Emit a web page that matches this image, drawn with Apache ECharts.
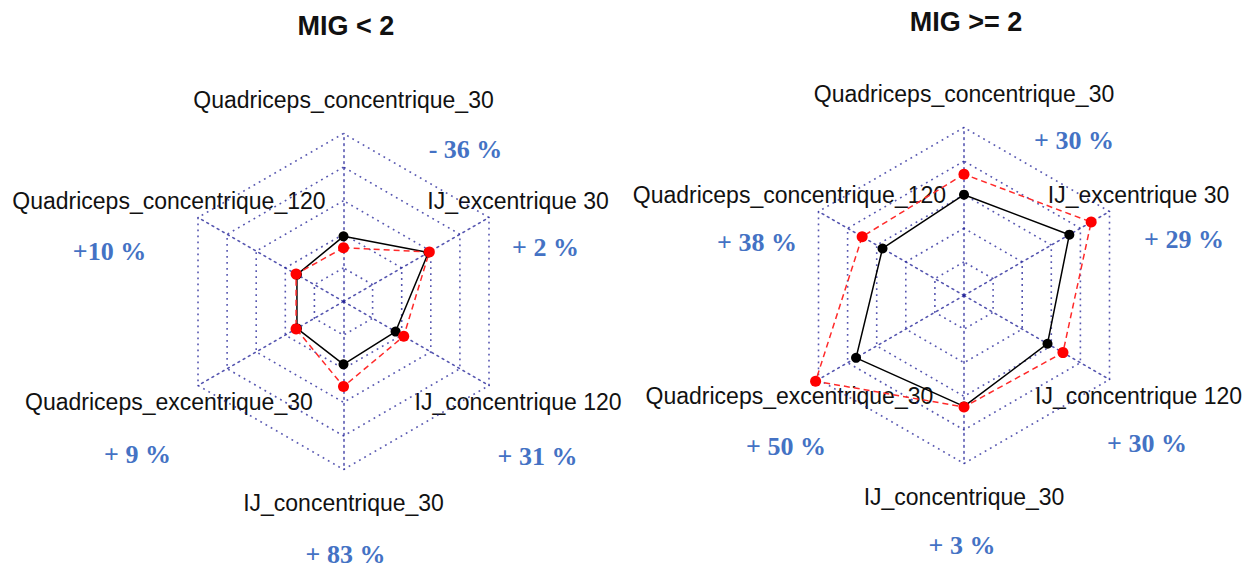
<!DOCTYPE html>
<html>
<head>
<meta charset="utf-8">
<script src="https://cdn.jsdelivr.net/npm/echarts@6/dist/echarts.min.js"></script>
<style>
    html, body {margin: 0; padding: 0; background: #fff;}
    #main {width: 1256px; height: 571px;}
</style>
</head>
<body>
<div id="main"></div>
<script>
// axes, counterclockwise starting at the top (fmsb order)
var indicators = ['Quadriceps_concentrique_30', 'Quadriceps_concentrique_120', 'Quadriceps_excentrique_30',
    'IJ_concentrique_30', 'IJ_concentrique 120', 'IJ_excentrique 30'];
var titles = ['MIG < 2', 'MIG >= 2'];

// values in grid-ring units (0..5)
var lowBlack = [1.94, 1.60, 1.60, 1.87, 1.79, 2.92];
var lowRed = [1.60, 1.63, 1.63, 2.53, 2.07, 2.95];
var highBlack = [3.00, 2.80, 3.71, 3.30, 2.87, 3.62];
var highRed = [3.61, 3.50, 5.10, 3.32, 3.40, 4.37];

// change labels next to each axis
var lowPct = ['- 36 %', '+10 %', '+ 9 %', '+ 83 %', '+ 31 %', '+ 2 %'];
var highPct = ['+ 30 %', '+ 38 %', '+ 50 %', '+ 3 %', '+ 30 %', '+ 29 %'];

// layout
var centers = [[343.5, 301.5], [964, 295.5]];
var titlePos = [[346, 26], [966, 22]];
var R = 168;
var pctOffsets = [
    [[122, -152], [-234, -50], [-206, 153], [2, 253], [194, 155], [202, -54]],
    [[110, -155], [-207, -53], [-178, 151], [-2, 250], [183, 148], [220, -56]]
];
var gridLine = {color: 'rgba(30,30,150,0.75)', width: 1.6, type: [1.8, 4.2]};

var myChart = echarts.init(document.getElementById('main'), null, {renderer: 'svg'});

function textEl(x, y, text, font, fill) {
    return {
        type: 'text', x: x, y: y, silent: true,
        style: {
            text: text, font: font, fill: fill,
            align: 'center', verticalAlign: 'middle',
            textAlign: 'center', textVerticalAlign: 'middle'
        }
    };
}

var graphics = [];
[lowPct, highPct].forEach(function (pct, k) {
    var cx = centers[k][0], cy = centers[k][1];
    graphics.push(textEl(titlePos[k][0], titlePos[k][1], titles[k], 'bold 27px "Liberation Sans", Arial', '#111'));
    indicators.forEach(function (name, i) {
        var a = Math.PI / 2 + i * Math.PI / 3;
        graphics.push(textEl(cx + 1.2 * R * Math.cos(a), cy - 1.2 * R * Math.sin(a), name,
            '23px "Liberation Sans", Arial', '#111'));
        graphics.push(textEl(cx + pctOffsets[k][i][0], cy + pctOffsets[k][i][1], pct[i],
            'bold 26px "Liberation Serif", "Times New Roman", serif', '#4472c4'));
    });
});

function radarFor(c) {
    return {
        center: c,
        radius: R,
        startAngle: 90,
        splitNumber: 5,
        shape: 'polygon',
        indicator: indicators.map(function (n) {
            return {name: n, min: 0, max: 5};
        }),
        axisName: {show: false},
        splitArea: {show: false},
        splitLine: {lineStyle: gridLine},
        axisLine: {lineStyle: gridLine},
        axisTick: {show: false},
        axisLabel: {show: false}
    };
}

function blackItem(v) {
    return {
        value: v, symbol: 'circle', symbolSize: 10,
        itemStyle: {color: '#000'},
        lineStyle: {color: '#000', width: 1.5, type: 'solid'}
    };
}

function redItem(v) {
    return {
        value: v, symbol: 'circle', symbolSize: 11,
        itemStyle: {color: '#ff0000'},
        lineStyle: {color: '#ff2a2a', width: 1.5, type: [6, 4]}
    };
}

var option = {
    animation: false,
    radar: [radarFor(centers[0]), radarFor(centers[1])],
    series: [
        {type: 'radar', radarIndex: 0, data: [blackItem(lowBlack), redItem(lowRed)]},
        {type: 'radar', radarIndex: 1, data: [blackItem(highBlack), redItem(highRed)]}
    ],
    graphic: graphics
};

myChart.setOption(option);
</script>
</body>
</html>
